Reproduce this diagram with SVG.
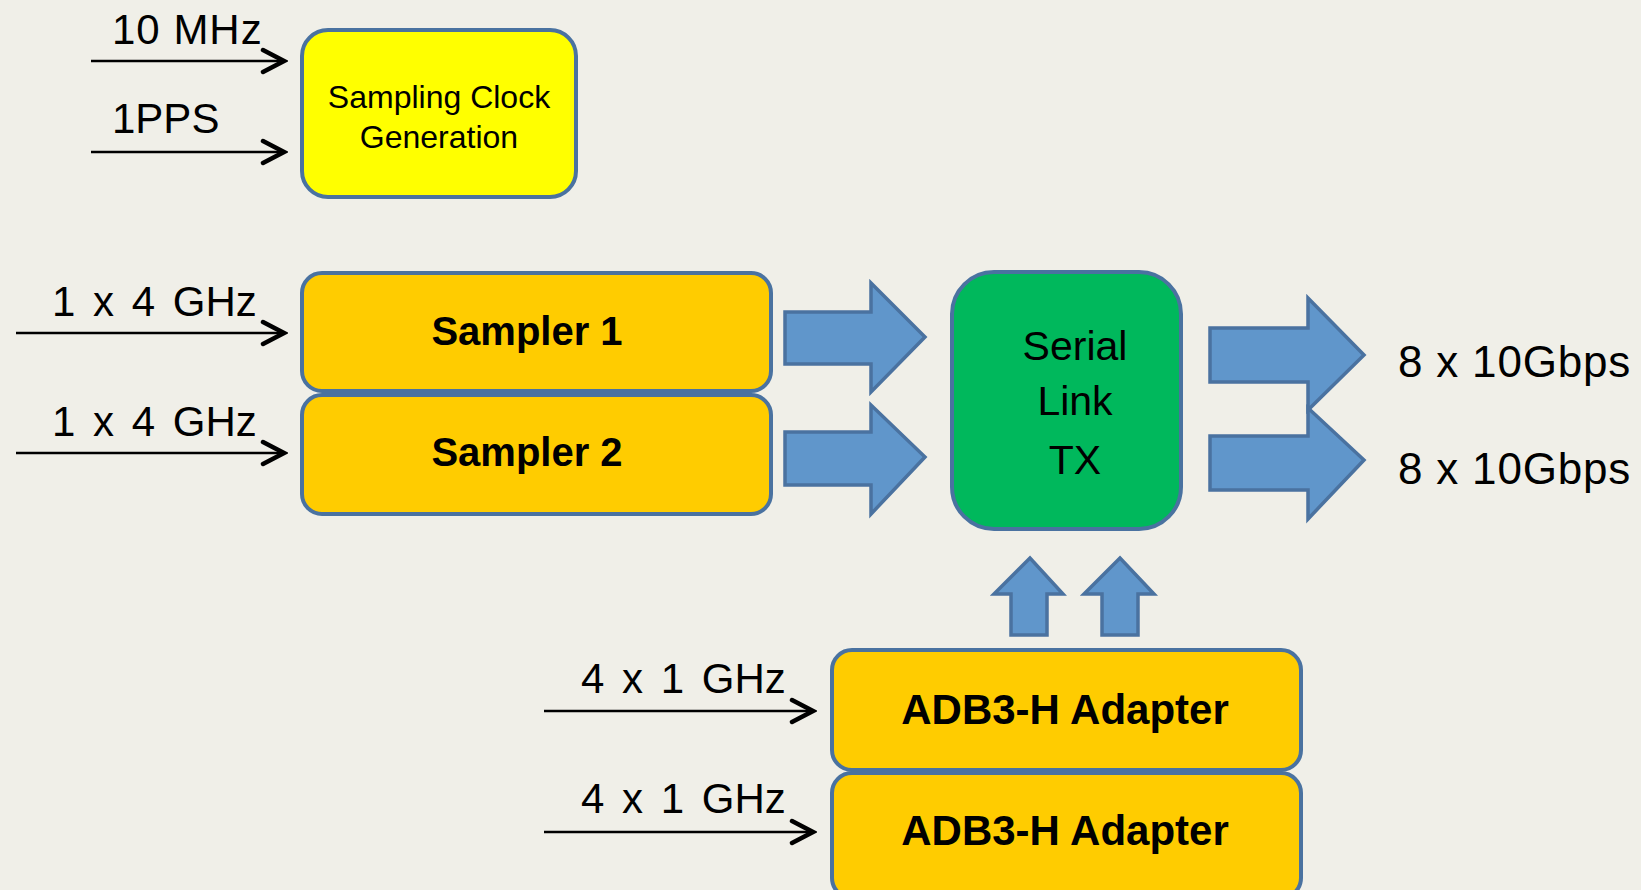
<svg xmlns="http://www.w3.org/2000/svg" width="1641" height="890" viewBox="0 0 1641 890">
<defs>
<style>
.bg{fill:#f0efe8}
.box{stroke:#4a72a0;stroke-width:4}
.yel{fill:#ffff00}
.org{fill:#ffcc00}
.grn{fill:#00b85c}
.blk{fill:#6096cb;stroke:#4a72a0;stroke-width:3.5;stroke-linejoin:miter}
.ln{stroke:#000;stroke-width:2.5;fill:none}
.lbl{font-family:"Liberation Sans",Arial,sans-serif;font-size:42px;fill:#000}
.ws{word-spacing:6px}
.nt{font-family:"Liberation Sans",Arial,sans-serif;fill:#000;text-anchor:middle}
.b{font-weight:bold;font-size:40px}
</style>
<marker id="chev" markerUnits="userSpaceOnUse" viewBox="-26 -16 30 32" markerWidth="30" markerHeight="32" refX="0" refY="0" orient="auto">
<path d="M-21,-11 L0,0 L-21,11" fill="none" stroke="#000" stroke-width="4.5" stroke-linecap="round" stroke-linejoin="miter"/>
</marker>
</defs>
<rect class="bg" x="0" y="0" width="1641" height="890"/>

<g id="connectors">
<line class="ln" x1="91" y1="61" x2="284" y2="61" marker-end="url(#chev)"/>
<line class="ln" x1="91" y1="152" x2="284" y2="152" marker-end="url(#chev)"/>
<line class="ln" x1="16" y1="333" x2="284" y2="333" marker-end="url(#chev)"/>
<line class="ln" x1="16" y1="453" x2="284" y2="453" marker-end="url(#chev)"/>
<line class="ln" x1="544" y1="711" x2="813" y2="711" marker-end="url(#chev)"/>
<line class="ln" x1="544" y1="832" x2="813" y2="832" marker-end="url(#chev)"/>
<path class="blk" d="M785,312 H871 V283 L925,337 L871,392 V364 H785 Z"/>
<path class="blk" d="M785,432 H871 V405 L925,457 L871,514 V485 H785 Z"/>
<path class="blk" d="M1210,328 H1308 V298 L1364,355 L1308,410 V382 H1210 Z"/>
<path class="blk" d="M1210,436 H1308 V408 L1364,460 L1308,519 V490 H1210 Z"/>
<path class="blk" d="M1011,635 V594 H994 L1030,558 L1063,594 H1047 V635 Z"/>
<path class="blk" d="M1102,635 V594 H1084 L1120,558 L1154,594 H1138 V635 Z"/>
</g>

<g id="labels">
<text class="lbl" x="112" y="44" style="letter-spacing:1px">10 MHz</text>
<text class="lbl" x="112" y="133">1PPS</text>
<text class="lbl ws" x="52" y="316">1 x 4 GHz</text>
<text class="lbl ws" x="52" y="436">1 x 4 GHz</text>
<text class="lbl ws" x="581" y="693">4 x 1 GHz</text>
<text class="lbl ws" x="581" y="813">4 x 1 GHz</text>
<text class="lbl" x="1398" y="377" style="font-size:44px;letter-spacing:0.8px">8 x 10Gbps</text>
<text class="lbl" x="1398" y="484" style="font-size:44px;letter-spacing:0.8px">8 x 10Gbps</text>
</g>

<g id="clockgen">
<rect class="box yel" x="302" y="30" width="274" height="167" rx="26"/>
<text class="nt" x="439" y="108" font-size="32">Sampling Clock</text>
<text class="nt" x="439" y="148" font-size="32">Generation</text>
</g>

<g id="sampler1">
<rect class="box org" x="302" y="273" width="469" height="118" rx="20"/>
<text class="nt b" x="527" y="345">Sampler 1</text>
</g>

<g id="sampler2">
<rect class="box org" x="302" y="395" width="469" height="119" rx="20"/>
<text class="nt b" x="527" y="466">Sampler 2</text>
</g>

<g id="serialtx">
<rect class="box grn" x="952" y="272" width="229" height="257" rx="42"/>
<text class="nt" x="1075" y="360" font-size="41">Serial</text>
<text class="nt" x="1075" y="415" font-size="41">Link</text>
<text class="nt" x="1075" y="474" font-size="41">TX</text>
</g>

<g id="adapter1">
<rect class="box org" x="832" y="650" width="469" height="120" rx="20"/>
<text class="nt b" x="1065" y="724" style="font-size:42px">ADB3-H Adapter</text>
</g>

<g id="adapter2">
<rect class="box org" x="832" y="773" width="469" height="125" rx="20"/>
<text class="nt b" x="1065" y="845" style="font-size:42px">ADB3-H Adapter</text>
</g>
</svg>
